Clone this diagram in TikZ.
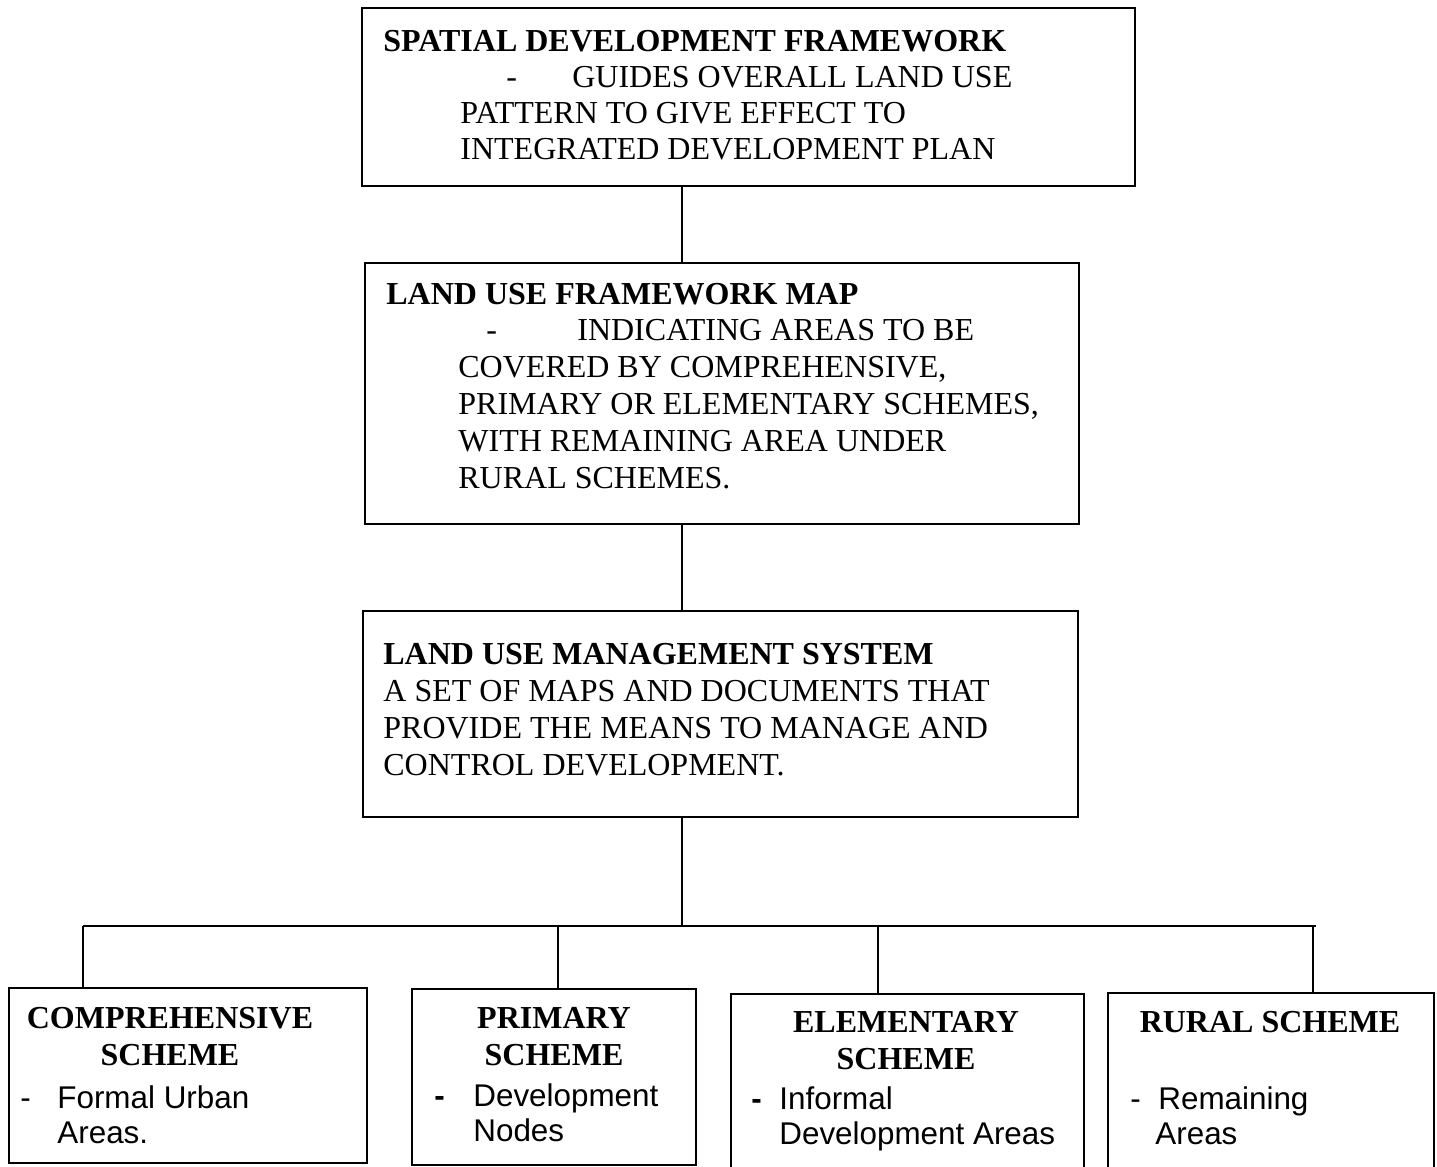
\documentclass[tikz,border=0pt]{standalone}
\usepackage{fontspec}
\setmainfont{Liberation Serif}
\newfontfamily\itemfont{Liberation Sans}
\usepackage{tikz}
\usetikzlibrary{positioning,calc}

\begin{document}
\begin{tikzpicture}[x=0.5pt,y=-0.5pt,
	box/.style={draw, line width=1pt, inner sep=0pt, anchor=north west},
	txt/.style={inner sep=0pt, anchor=north west, align=left, font=\fontsize{16}{18.4}\selectfont},
	head/.style={inner sep=0pt, anchor=north, align=center, font=\fontsize{16}{18.5}\selectfont\bfseries},
	item/.style={inner sep=0pt, anchor=north west, align=left, font=\itemfont\fontsize{15.7}{17.5}\selectfont},
	link/.style={line width=0.75pt}]
\useasboundingbox (0,0) rectangle (1437,1167);

\node[box, minimum width=386.5pt, minimum height=89pt] (sdf) at (361,7) {};
\node[box, minimum width=357pt, minimum height=130.5pt] (lufm) at (364,262) {};
\node[box, minimum width=357.5pt, minimum height=103pt] (lums) at (362,610) {};
\node[box, minimum width=179pt, minimum height=87.5pt] (cs) at (8,987) {};
\node[box, minimum width=142pt, minimum height=88pt] (ps) at (411,988) {};
\node[box, minimum width=176.5pt, minimum height=100pt] (es) at (730,993) {};
\node[box, minimum width=163pt, minimum height=100pt] (rs) at (1107,992) {};

\node[txt, font=\fontsize{16}{18}\selectfont] (sdf-t) at (383,29.5)
	{\textbf{SPATIAL DEVELOPMENT FRAMEWORK}\\
	\hspace*{61.5pt}\makebox[33pt][l]{-}GUIDES OVERALL LAND USE\\
	\hspace*{38.5pt}PATTERN TO GIVE EFFECT TO\\
	\hspace*{38.5pt}INTEGRATED DEVELOPMENT PLAN};
\node[txt] (lufm-t) at (386,282.5)
	{\textbf{LAND USE FRAMEWORK MAP}\\
	\hspace*{50pt}\makebox[45.5pt][l]{-}INDICATING AREAS TO BE\\
	\hspace*{36pt}COVERED BY COMPREHENSIVE,\\
	\hspace*{36pt}PRIMARY OR ELEMENTARY SCHEMES,\\
	\hspace*{36pt}WITH REMAINING AREA UNDER\\
	\hspace*{36pt}RURAL SCHEMES.};
\node[txt, font=\fontsize{16}{18.5}\selectfont] (lums-t) at (383,642.5)
	{\textbf{LAND USE MANAGEMENT SYSTEM}\\
	A SET OF MAPS AND DOCUMENTS THAT\\
	PROVIDE THE MEANS TO MANAGE AND\\
	CONTROL DEVELOPMENT.};

\node[head] (cs-h) at (170,1007) {COMPREHENSIVE\\SCHEME};
\node[head] (ps-h) at (554,1007) {PRIMARY\\SCHEME};
\node[head] (es-h) at (906,1011) {ELEMENTARY\\SCHEME};
\node[head] (rs-h) at (1270,1011) {RURAL SCHEME};

\node[item] (cs-i) at (20,1085.5) {\makebox[18.5pt][l]{-}Formal Urban\\ \hspace*{18.5pt}Areas.};
\node[item] (ps-i) at (434,1083.5) {\makebox[19.5pt][l]{\bfseries -}Development\\ \hspace*{19.5pt}Nodes};
\node[item] (es-i) at (751,1086.5) {\makebox[14pt][l]{\bfseries -}Informal\\ \hspace*{14pt}Development Areas};
\node[item] (rs-i) at (1130,1086.5) {\makebox[14pt][l]{-}Remaining\\ \hspace*{12.5pt}Areas};

\coordinate (trunk) at (682,926);
\coordinate (busL) at (83,926);
\coordinate (busR) at (1316,926);
\coordinate (psTop) at (558,926);
\coordinate (esTop) at (878,926);
\coordinate (rsTop) at (1313,926);

\draw[link] (trunk |- sdf.south) -- (trunk |- lufm.north);
\draw[link] (trunk |- lufm.south) -- (trunk |- lums.north);
\draw[link] (trunk |- lums.south) -- (trunk);
\draw[link] (busL) -- (busR);
\draw[link] (busL) -- (busL |- cs.north);
\draw[link] (psTop) -- (psTop |- ps.north);
\draw[link] (esTop) -- (esTop |- es.north);
\draw[link] (rsTop) -- (rsTop |- rs.north);
\end{tikzpicture}
\end{document}
